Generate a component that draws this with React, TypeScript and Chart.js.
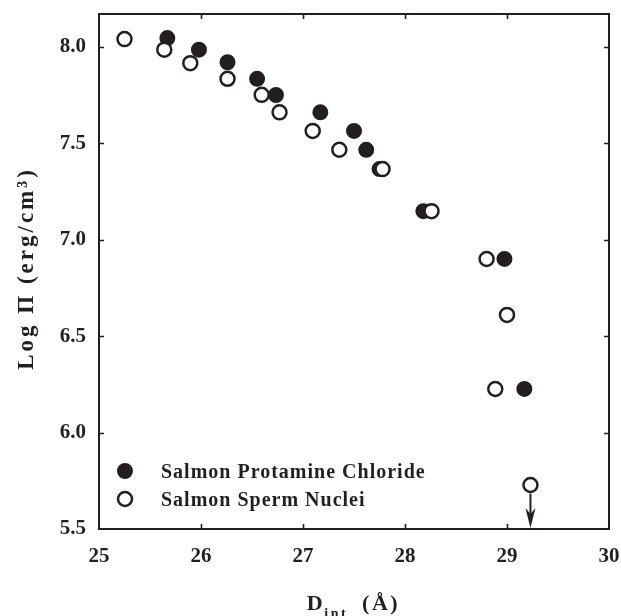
import React, { useEffect, useRef } from 'react';
import { Chart, registerables } from 'chart.js';

Chart.register(...registerables);

// ---- Data ----
const PROTAMINE_X = [25.67, 25.98, 26.26, 26.55, 26.735, 27.17, 27.5, 27.62, 27.75, 28.18, 28.975, 29.17];
const PROTAMINE_Y = [8.045, 7.985, 7.92, 7.834, 7.75, 7.66, 7.564, 7.466, 7.366, 7.148, 6.9, 6.226];
const NUCLEI_X = [25.25, 25.64, 25.895, 26.26, 26.595, 26.77, 27.095, 27.356, 27.78, 28.26, 28.8, 29.0, 28.885, 29.23];
const NUCLEI_Y = [8.04, 7.985, 7.915, 7.834, 7.751, 7.66, 7.564, 7.466, 7.366, 7.148, 6.9, 6.61, 6.226, 5.728];
// arrow marking the last point (upper limit) pointing down to the axis
const ARROW_FROM = [29.23, 5.728];
const ARROW_TO = [29.23, 5.5];

const X_TICKS = [25, 26, 27, 28, 29, 30];
const Y_TICKS = [5.5, 6.0, 6.5, 7.0, 7.5, 8.0];
const X_RANGE = [25, 30];
const Y_RANGE = [5.5, 8.17];
const LEGEND_LABELS = ['Salmon Protamine Chloride', 'Salmon Sperm Nuclei'];
const X_TITLE_MAIN = 'D';
const X_TITLE_SUB = 'int';
const X_TITLE_TAIL = ' (Å)';
const Y_TITLE = 'Log Π (erg/cm³)';

const DARK = '#231f20';
const FONT = '"Liberation Serif", "Times New Roman", serif';

const decorPlugin = {
  id: 'decor',
  beforeDatasetsDraw(chart: any) {
    const { ctx, chartArea: a, scales } = chart;
    const x = scales.x;
    const y = scales.y;
    ctx.save();
    ctx.strokeStyle = DARK;
    ctx.lineWidth = 2;
    ctx.strokeRect(a.left, a.top, a.right - a.left, a.bottom - a.top);
    ctx.lineWidth = 1.6;
    ctx.beginPath();
    const tl = 5;
    X_TICKS.forEach((v) => {
      const px = Math.round(x.getPixelForValue(v)) + 0.5;
      if (px > a.left + 2 && px < a.right - 2) {
        ctx.moveTo(px, a.bottom);
        ctx.lineTo(px, a.bottom - tl);
        ctx.moveTo(px, a.top);
        ctx.lineTo(px, a.top + tl);
      }
    });
    Y_TICKS.forEach((v) => {
      const py = Math.round(y.getPixelForValue(v)) + 0.5;
      if (py > a.top + 2 && py < a.bottom - 2) {
        ctx.moveTo(a.left, py);
        ctx.lineTo(a.left + tl, py);
        ctx.moveTo(a.right, py);
        ctx.lineTo(a.right - tl, py);
      }
    });
    ctx.stroke();
    ctx.restore();
  },
  afterDraw(chart: any) {
    const { ctx, chartArea: a, scales } = chart;
    const x = scales.x;
    const y = scales.y;
    ctx.save();

    // Arrow
    const ax = x.getPixelForValue(ARROW_FROM[0]);
    const ay0 = y.getPixelForValue(ARROW_FROM[1]) + 8.5;
    const ay1 = y.getPixelForValue(ARROW_TO[1]) - 1;
    ctx.strokeStyle = DARK;
    ctx.fillStyle = DARK;
    ctx.lineWidth = 2;
    ctx.beginPath();
    ctx.moveTo(ax, ay0);
    ctx.lineTo(ax, ay1 - 10);
    ctx.stroke();
    ctx.beginPath();
    ctx.moveTo(ax, ay1);
    ctx.lineTo(ax - 5, ay1 - 20);
    ctx.lineTo(ax, ay1 - 14);
    ctx.lineTo(ax + 5, ay1 - 20);
    ctx.closePath();
    ctx.fill();

    // Legend
    const lx = a.left + 26;
    const rows = [a.bottom - 58, a.bottom - 30];
    LEGEND_LABELS.forEach((label, i) => {
      const ly = rows[i];
      ctx.beginPath();
      ctx.arc(lx, ly, 7, 0, Math.PI * 2);
      ctx.fillStyle = i === 0 ? DARK : '#ffffff';
      ctx.fill();
      ctx.lineWidth = i === 0 ? 2 : 2.5;
      ctx.strokeStyle = DARK;
      ctx.stroke();
      ctx.fillStyle = DARK;
      ctx.font = `bold 20px ${FONT}`;
      (ctx as any).letterSpacing = '1px';
      ctx.textAlign = 'left';
      ctx.textBaseline = 'alphabetic';
      ctx.fillText(label, lx + 36, ly + 7);
      (ctx as any).letterSpacing = '0px';
    });

    // Y title
    ctx.save();
    ctx.translate(27, (a.top + a.bottom) / 2 - 3);
    ctx.rotate(-Math.PI / 2);
    ctx.font = `bold 23px ${FONT}`;
    (ctx as any).letterSpacing = '3px';
    ctx.textAlign = 'center';
    ctx.textBaseline = 'middle';
    ctx.fillStyle = DARK;
    ctx.fillText(Y_TITLE, 0, 0);
    ctx.restore();

    // X title
    const cx = (a.left + a.right) / 2;
    const base = 610;
    (ctx as any).letterSpacing = '2.5px';
    ctx.font = `bold 22px ${FONT}`;
    const wMain = ctx.measureText(X_TITLE_MAIN).width;
    const wTail = ctx.measureText(X_TITLE_TAIL).width;
    ctx.font = `bold 14px ${FONT}`;
    const wSub = ctx.measureText(X_TITLE_SUB).width;
    const total = wMain + wSub + 6 + wTail;
    let sx = cx - total / 2;
    ctx.fillStyle = DARK;
    ctx.textAlign = 'left';
    ctx.textBaseline = 'alphabetic';
    ctx.font = `bold 22px ${FONT}`;
    ctx.fillText(X_TITLE_MAIN, sx, base);
    sx += wMain - 1;
    ctx.font = `bold 14px ${FONT}`;
    ctx.fillText(X_TITLE_SUB, sx, base + 8);
    sx += wSub + 6;
    ctx.font = `bold 22px ${FONT}`;
    ctx.fillText(X_TITLE_TAIL, sx, base);
    ctx.restore();
  },
};

export default function App() {
  const ref = useRef<HTMLCanvasElement | null>(null);

  useEffect(() => {
    if (!ref.current) return;
    const tickFont = { family: FONT, size: 21, weight: 'bold' as const };
    const chart = new Chart(ref.current, {
      type: 'scatter',
      data: {
        datasets: [
          {
            label: LEGEND_LABELS[0],
            data: PROTAMINE_X.map((vx, i) => ({ x: vx, y: PROTAMINE_Y[i] })),
            pointRadius: 7,
            pointHoverRadius: 7,
            pointBackgroundColor: DARK,
            pointBorderColor: DARK,
            pointBorderWidth: 2,
            showLine: false,
            order: 1,
            clip: false as any,
          },
          {
            label: LEGEND_LABELS[1],
            data: NUCLEI_X.map((vx, i) => ({ x: vx, y: NUCLEI_Y[i] })),
            pointRadius: 7,
            pointHoverRadius: 7,
            pointBackgroundColor: '#ffffff',
            pointBorderColor: DARK,
            pointBorderWidth: 2.5,
            showLine: false,
            order: 0,
            clip: false as any,
          },
        ],
      },
      options: {
        responsive: false,
        animation: false,
        devicePixelRatio: 1,
        events: [],
        layout: { padding: { top: 14, right: 12, left: 0, bottom: 0 } },
        plugins: {
          legend: { display: false },
          tooltip: { enabled: false },
        },
        scales: {
          x: {
            type: 'linear',
            min: X_RANGE[0],
            max: X_RANGE[1],
            afterBuildTicks: (s: any) => {
              s.ticks = X_TICKS.map((v) => ({ value: v }));
            },
            afterFit: (s: any) => {
              s.height = 87;
              s.paddingLeft = 0;
              s.paddingRight = 0;
            },
            grid: { display: false, drawTicks: false },
            border: { display: false },
            ticks: {
              font: tickFont,
              color: DARK,
              padding: 15,
              maxRotation: 0,
              autoSkip: false,
              callback: (v: any) => String(v),
            },
          },
          y: {
            type: 'linear',
            min: Y_RANGE[0],
            max: Y_RANGE[1],
            afterBuildTicks: (s: any) => {
              s.ticks = Y_TICKS.map((v) => ({ value: v }));
            },
            afterFit: (s: any) => {
              s.width = 99;
              s.paddingTop = 0;
              s.paddingBottom = 0;
            },
            grid: { display: false, drawTicks: false },
            border: { display: false },
            ticks: {
              font: tickFont,
              color: DARK,
              padding: 13,
              autoSkip: false,
              callback: (v: any) => Number(v).toFixed(1),
            },
          },
        },
      },
      plugins: [decorPlugin],
    });
    return () => chart.destroy();
  }, []);

  return (
    <canvas
      ref={ref}
      width={621}
      height={616}
      style={{ position: 'absolute', left: 0, top: 0, width: 621, height: 616, background: '#ffffff' }}
    />
  );
}
